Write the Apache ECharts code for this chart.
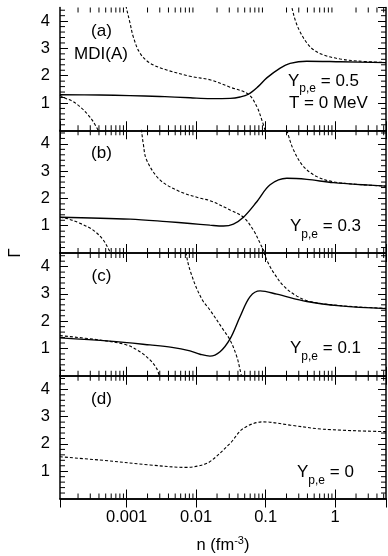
<!DOCTYPE html>
<html><head><meta charset="utf-8">
<script src="https://cdn.jsdelivr.net/npm/echarts@6/dist/echarts.min.js"></script>
<style>html,body{margin:0;padding:0;background:#fff}#c{width:388px;height:556px}</style>
</head><body><div id="c"></div>
<script>
// ---- axis ranges ----
const xMin = 1.1e-4, xMax = 5.4, yMin = 0, yMax = 4.5;
const panelLetters = ['(a)', '(b)', '(c)', '(d)'];
const ypeValues = ['0.5', '0.3', '0.1', '0'];
const xTickLabels = ['0.001', '0.01', '0.1', '1'];

// ---- data: [n (fm^-3), Gamma] ----
// panel (a) Y=0.5
const aSolid = [[1.1e-4,1.30],[4.1e-4,1.29],[1.1e-3,1.27],[3.0e-3,1.24],[8.2e-3,1.19],[0.016,1.16],[0.031,1.17],[0.043,1.22],[0.0565,1.32],[0.078,1.60],[0.104,1.92],[0.162,2.28],[0.225,2.45],[0.39,2.53],[1.2,2.51],[5.4,2.48]];
const aDashLow = [[1.1e-4,1.29],[1.22e-4,1.21],[1.7e-4,1.05],[2.25e-4,0.81],[2.8e-4,0.56],[3.3e-4,0.32],[3.9e-4,0]];
const aDashMid = [[9.45e-4,4.75],[1.0e-3,4.45],[1.12e-3,3.93],[1.245e-3,3.43],[1.555e-3,2.83],[2.17e-3,2.46],[3.77e-3,2.21],[8.5e-3,1.97],[0.0158,1.85],[0.0308,1.58],[0.0565,1.32],[0.0747,0.87],[0.0881,0.38],[0.0984,0]];
const aDashHigh = [[0.21,5.2],[0.239,4.5],[0.27,4.0],[0.314,3.6],[0.393,3.2],[0.489,2.95],[0.68,2.76],[1.19,2.61],[2.06,2.54],[5.4,2.48]];
// panel (b) Y=0.3
const bSolid = [[1.1e-4,1.31],[1.12e-3,1.24],[3.77e-3,1.15],[8.2e-3,1.08],[0.0158,1.02],[0.0247,0.99],[0.0344,1.06],[0.0479,1.31],[0.0747,1.88],[0.116,2.50],[0.202,2.74],[0.393,2.70],[0.95,2.58],[5.4,2.45]];
const bDashLow = [[1.1e-4,1.31],[1.36e-4,1.27],[2.13e-4,1.09],[3.3e-4,0.84],[4.6e-4,0.48],[5.74e-4,0.05],[5.85e-4,0]];
const bDashMid = [[1.58e-3,4.9],[1.64e-3,4.5],[1.73e-3,4.03],[1.94e-3,3.41],[3.02e-3,2.68],[5.86e-3,2.25],[0.0114,2.01],[0.0158,1.92],[0.0308,1.58],[0.0479,1.31],[0.0667,0.84],[0.0881,0.23],[0.0984,0]];
const bDashHigh = [[0.185,4.85],[0.202,4.5],[0.252,3.78],[0.351,3.17],[0.547,2.80],[0.948,2.61],[2.0,2.52],[5.4,2.45]];
// panel (c) Y=0.1
const cSolid = [[1.1e-4,1.39],[5.74e-4,1.27],[2.17e-3,1.13],[4.5e-3,1.04],[8.17e-3,0.91],[0.0114,0.79],[0.0158,0.72],[0.0221,0.88],[0.0308,1.35],[0.043,2.17],[0.0598,2.90],[0.0834,3.11],[0.145,2.99],[0.393,2.72],[1.19,2.56],[5.4,2.46]];
const cDashLow = [[1.1e-4,1.47],[4.12e-4,1.31],[1.0e-3,1.13],[1.555e-3,0.88],[2.17e-3,0.58],[2.7e-3,0.27],[2.95e-3,0]];
const cDashMid = [[6.9e-3,4.7],[7.15e-3,4.5],[7.7e-3,4.1],[8.6e-3,3.7],[0.0102,3.2],[0.0125,2.75],[0.0158,2.41],[0.0247,1.68],[0.0308,1.31],[0.0385,0.70],[0.043,0.21],[0.0448,0]];
const cDashHigh = [[0.089,4.7],[0.095,4.5],[0.104,4.24],[0.116,4.0],[0.129,3.8],[0.18,3.3],[0.282,2.92],[0.437,2.72],[1.19,2.57],[5.4,2.47]];
// panel (d) Y=0
const dDash = [[1.1e-4,1.53],[4.12e-4,1.41],[2.17e-3,1.23],[7.3e-3,1.14],[0.0114,1.21],[0.0158,1.35],[0.0308,2.02],[0.0479,2.57],[0.093,2.81],[0.225,2.69],[0.68,2.54],[5.4,2.45]];

const panels = [
  {solid: aSolid, dashed: [aDashLow, aDashMid, aDashHigh]},
  {solid: bSolid, dashed: [bDashLow, bDashMid, bDashHigh]},
  {solid: cSolid, dashed: [cDashLow, cDashMid, cDashHigh]},
  {solid: null,   dashed: [dDash]}
];

// minor tick positions
const minorXTicks = [];
for (let e = -4; e <= 0; e++) for (let k = 2; k <= 9; k++) {
  const v = k * Math.pow(10, e);
  if (v > xMin && v < xMax) minorXTicks.push(v);
}
const minorYTicks = [];
for (let i = 1; i < 23; i++) if (i % 5 !== 0) minorYTicks.push(+(i * 0.2).toFixed(1));

const FONT = 'Liberation Sans, Arial, Helvetica, sans-serif';
const BLACK = '#000';
const gridTop = 7.5, gridH = 122.75;

const grid = [], xAxis = [], yAxis = [], series = [], graphic = [];
for (let i = 0; i < 4; i++) {
  grid.push({left: 60, right: 2, top: gridTop + i * gridH, height: gridH, show: false});
  const xBase = {gridIndex: i, type: 'log', logBase: 10, min: xMin, max: xMax,
    axisLine: {show: true, lineStyle: {color: BLACK, width: 1.5}},
    axisTick: {show: true, inside: true, length: 9, lineStyle: {color: BLACK, width: 1}},
    splitLine: {show: false}, minorTick: {show: false}};
  xAxis.push(Object.assign({}, xBase, {position: 'bottom',
    axisLabel: {show: i === 3, color: BLACK, fontFamily: FONT, fontSize: 16.5, margin: 10,
      showMinLabel: false, showMaxLabel: false,
      formatter: v => { const s = xTickLabels.find(t => Math.abs(parseFloat(t) - v) / v < 1e-6); return s || ''; }},
    name: i === 3 ? '{m|n (fm}{s|-3}{m|)}' : '', nameLocation: 'middle', nameGap: 37,
    nameTextStyle: {rich: {m: {fontFamily: FONT, fontSize: 16.5, color: BLACK, lineHeight: 20},
                           s: {fontFamily: FONT, fontSize: 11, color: BLACK, lineHeight: 11, verticalAlign: 'top'}}}}));
  xAxis.push(Object.assign({}, xBase, {position: 'top', axisLabel: {show: false}}));
  const yBase = {gridIndex: i, type: 'value', min: yMin, max: yMax, interval: 1,
    axisLine: {show: true, lineStyle: {color: BLACK, width: 1.5}},
    axisTick: {show: true, inside: true, length: 8, lineStyle: {color: BLACK, width: 1}},
    splitLine: {show: false}, minorTick: {show: false}};
  yAxis.push(Object.assign({}, yBase, {position: 'left',
    axisLabel: {show: true, color: BLACK, fontFamily: FONT, fontSize: 16.5, margin: 10,
      showMinLabel: false, showMaxLabel: false,
      formatter: v => (v >= 1 && v <= 4 && Math.abs(v - Math.round(v)) < 1e-6) ? String(Math.round(v)) : ''}}));
  yAxis.push(Object.assign({}, yBase, {position: 'right', axisLabel: {show: false}}));

  const p = panels[i];
  if (p.solid) series.push({type: 'line', xAxisIndex: 2 * i, yAxisIndex: 2 * i, data: p.solid,
    showSymbol: false, smooth: 0.35, clip: true,
    lineStyle: {color: BLACK, width: 1.4, type: 'solid'}, z: 3});
  p.dashed.forEach(d => series.push({type: 'line', xAxisIndex: 2 * i, yAxisIndex: 2 * i, data: d,
    showSymbol: false, smooth: 0.35, clip: true,
    lineStyle: {color: BLACK, width: 1.1, type: [3, 2]}, z: 3}));

  // minor ticks through the axes' scales
  const tickData = [];
  minorXTicks.forEach(v => { tickData.push([v, 1, 0]); tickData.push([v, 1, 1]); });
  minorYTicks.forEach(v => { tickData.push([xMin, v, 2]); tickData.push([xMin, v, 3]); });
  series.push({type: 'custom', xAxisIndex: 2 * i, yAxisIndex: 2 * i, data: tickData, silent: true, z: 4,
    renderItem: (params, api) => {
      const kind = api.value(2);
      const pt = api.coord([api.value(0), api.value(1)]);
      const cs = params.coordSys;
      let shape;
      if (kind === 0) shape = {x1: pt[0], y1: cs.y + cs.height, x2: pt[0], y2: cs.y + cs.height - 5};
      else if (kind === 1) shape = {x1: pt[0], y1: cs.y, x2: pt[0], y2: cs.y + 5};
      else if (kind === 2) shape = {x1: cs.x, y1: pt[1], x2: cs.x + 5, y2: pt[1]};
      else shape = {x1: cs.x + cs.width, y1: pt[1], x2: cs.x + cs.width - 5, y2: pt[1]};
      return {type: 'line', shape: shape, style: {stroke: BLACK, lineWidth: 1}};
    }});

  // panel annotations
  const top = gridTop + i * gridH;
  graphic.push({type: 'text', x: 101.5, y: top + 23.5, style: {text: panelLetters[i], fontFamily: FONT, fontSize: 17, fill: BLACK, align: 'center', verticalAlign: 'middle'}});
  const yLeft = [288, 290, 290, 297][i];
  const yOff = [73.5, 96, 95.5, 96.5][i];
  graphic.push({type: 'text', x: yLeft, y: top + yOff, style: {
    text: '{m|Y}{s|p,e}{m| = ' + ypeValues[i] + '}', align: 'left', verticalAlign: 'middle',
    rich: {m: {fontFamily: FONT, fontSize: 17, fill: BLACK, color: BLACK, lineHeight: 28},
           s: {fontFamily: FONT, fontSize: 12, fill: BLACK, color: BLACK, lineHeight: 12, verticalAlign: 'bottom'}}}});
}
graphic.push({type: 'text', x: 101, y: 54, style: {text: 'MDI(A)', fontFamily: FONT, fontSize: 17, fill: BLACK, align: 'center', verticalAlign: 'middle'}});
graphic.push({type: 'text', x: 289, y: 103, style: {text: 'T = 0 MeV', fontFamily: FONT, fontSize: 17, fill: BLACK, align: 'left', verticalAlign: 'middle'}});
graphic.push({type: 'text', x: 15, y: 253, rotation: Math.PI / 2, style: {text: 'Γ', fontFamily: FONT, fontSize: 17, fill: BLACK, align: 'center', verticalAlign: 'middle'}});

const chart = echarts.init(document.getElementById('c'), null, {renderer: 'canvas'});
chart.setOption({animation: false, backgroundColor: '#fff', grid, xAxis, yAxis, series, graphic});
</script></body></html>
